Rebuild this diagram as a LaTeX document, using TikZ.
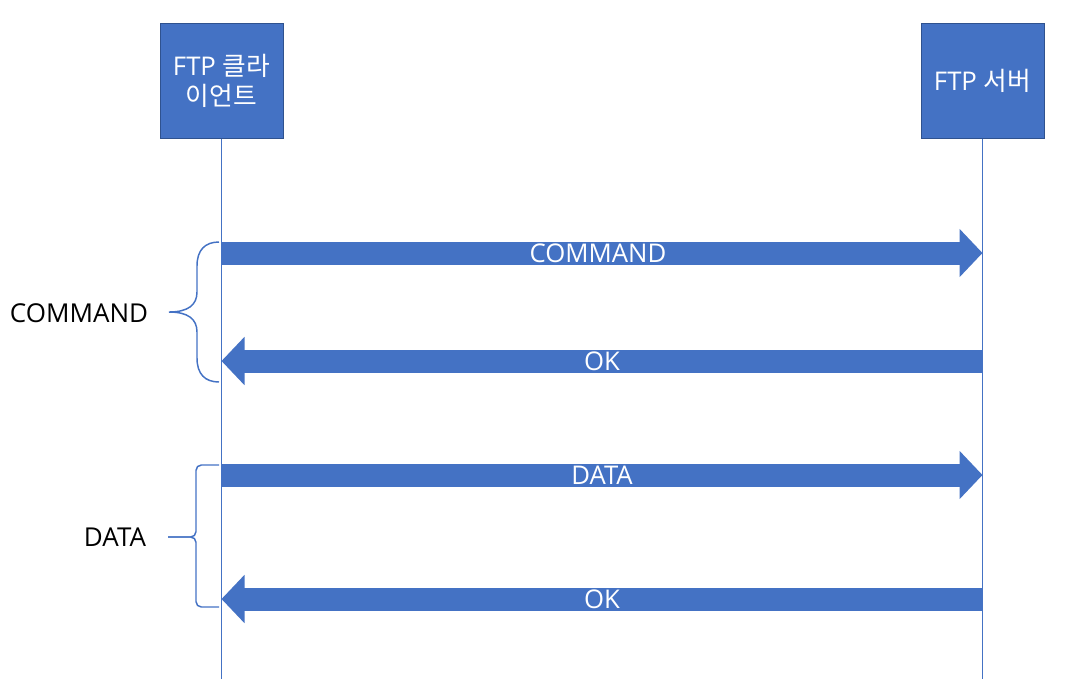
\documentclass[tikz,border=0pt]{standalone}
\usepackage{fontspec}
\setmainfont{Open Sans}
\newfontfamily\kor{Noto Sans CJK KR}
\usetikzlibrary{arrows.meta,positioning}
\definecolor{ftpblue}{HTML}{4472C4}
\definecolor{ftpedge}{HTML}{2F528F}

\begin{document}
\begin{tikzpicture}[x=0.75pt,y=-0.75pt,
  actor/.style={draw=ftpedge, fill=ftpblue, text=white, line width=0.75pt,
    minimum width=92.25pt, minimum height=86.25pt, inner sep=0pt,
    align=center, font=\fontsize{19.3}{22.5}\selectfont},
  life/.style={draw=ftpblue, line width=0.75pt},
  msg/.style={ftpblue, line width=17.25pt, -{Triangle[length=17.25pt,width=35.25pt]}},
  msgtext/.style={text=white, inner sep=0pt, font=\fontsize{19.3}{22}\selectfont},
  grp/.style={draw=ftpblue, line width=1.1pt},
  grptext/.style={inner sep=0pt, font=\fontsize{19.5}{22}\selectfont}]
\useasboundingbox (0,0) rectangle (1067,687);

% lifelines
\node[actor] (client) at (221.5,80.5) {FTP {\kor 클라}\\{\kor 이언트}};
\node[actor] (server) at (982.5,80.5) {FTP {\kor 서버}};
\coordinate (client end) at (221.5,679);
\coordinate (server end) at (982.5,679);
\draw[life] (client) -- (client end);
\draw[life] (server) -- (server end);

% messages
\coordinate (c1) at (221.5,253);
\coordinate (s1) at (982.5,253);
\coordinate (c2) at (221.5,361);
\coordinate (s2) at (982.5,361);
\coordinate (c3) at (221.5,475);
\coordinate (s3) at (982.5,475);
\coordinate (c4) at (221.5,599);
\coordinate (s4) at (982.5,599);
\draw[msg] (c1) -- node[msgtext, xshift=-3] (m1) {COMMAND} (s1);
\draw[msg] (s2) -- node[msgtext] (m2) {OK} (c2);
\draw[msg] (c3) -- node[msgtext] (m3) {DATA} (s3);
\draw[msg] (s4) -- node[msgtext] (m4) {OK} (c4);

% groups
\draw[grp] (219,242) .. controls (205,242) and (197,250) .. (197,266)
  -- (197,292) .. controls (197,305) and (188,312) .. (169,312)
  .. controls (188,312) and (197,319) .. (197,332)
  -- (197,358) .. controls (197,374) and (205,382) .. (219,382);
\node[grptext] (cmdgroup) at (79,313) {COMMAND};
\draw[grp, rounded corners=4pt] (219,465) -- (196,465) -- (196,537) -- (168,537);
\draw[grp, rounded corners=4pt] (168,537) -- (196,537) -- (196,607) -- (219,607);
\node[grptext] (datagroup) at (115,537) {DATA};
\end{tikzpicture}
\end{document}
